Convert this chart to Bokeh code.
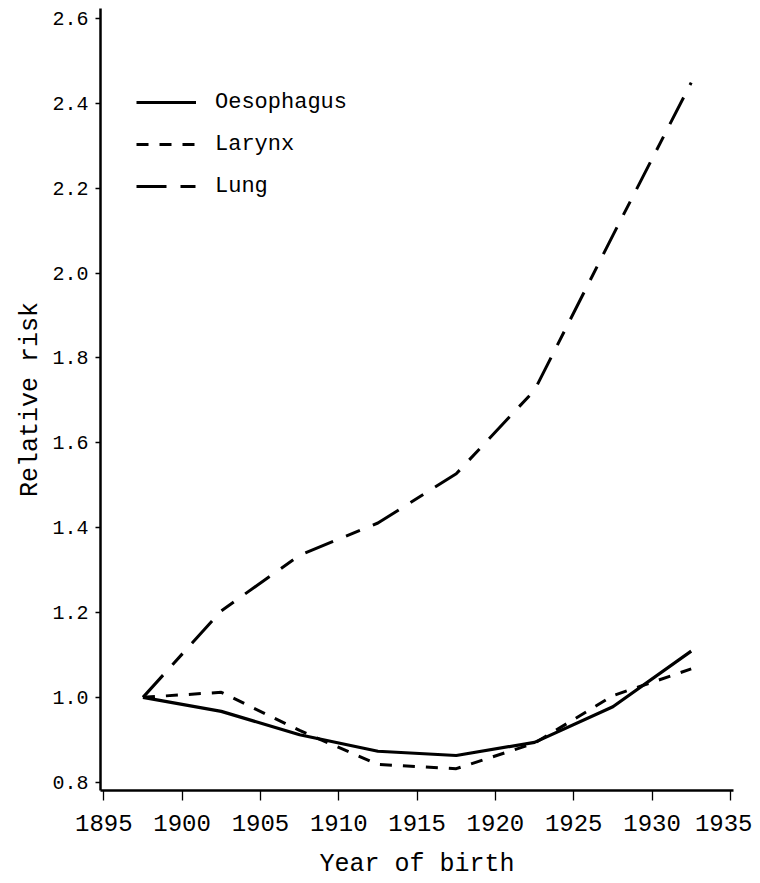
from bokeh.plotting import figure
from bokeh.models import FixedTicker, PrintfTickFormatter, Range1d, Legend, LegendItem
from bokeh.embed import file_html
from bokeh.resources import INLINE

years = [1897.5, 1902.5, 1907.5, 1912.5, 1917.5, 1922.5, 1927.5, 1932.5]
oesophagus = [1.0, 0.967, 0.912, 0.873, 0.863, 0.894, 0.978, 1.109]
larynx = [1.0, 1.012, 0.922, 0.842, 0.832, 0.892, 1.004, 1.067]
lung = [1.0, 1.204, 1.335, 1.411, 1.527, 1.724, 2.089, 2.449]

x_ticks = [1895, 1900, 1905, 1910, 1915, 1920, 1925, 1930, 1935]
y_ticks = [0.8, 1.0, 1.2, 1.4, 1.6, 1.8, 2.0, 2.2, 2.4, 2.6]

FONT = "Liberation Mono"

p = figure(width=752, height=882, output_backend="svg", toolbar_location=None,
           x_range=Range1d(1894.79, 1935.2), y_range=Range1d(0.7805, 2.6236),
           min_border_left=100, min_border_right=19, min_border_top=8, min_border_bottom=92)
p.outline_line_color = None
p.xgrid.visible = False
p.ygrid.visible = False
p.background_fill_color = "white"
p.border_fill_color = "white"

r1 = p.line(years, oesophagus, line_color="black", line_width=3.2)
r2 = p.line(years, larynx, line_color="black", line_width=3, line_dash="12 11")
r3 = p.line(years, lung, line_color="black", line_width=3, line_dash="30 14 15 14")

for ax in (p.xaxis[0], p.yaxis[0]):
    ax.axis_line_width = 2.5
    ax.axis_line_color = "black"
    ax.major_tick_in = 0
    ax.minor_tick_line_color = None
    ax.major_tick_line_width = 1.3
    ax.major_label_text_font = FONT
    ax.major_label_text_color = "black"
    ax.axis_label_text_font = FONT
    ax.axis_label_text_font_style = "normal"
    ax.axis_label_text_color = "black"
    ax.axis_label_text_font_size = "25px"

p.xaxis.ticker = FixedTicker(ticks=x_ticks)
p.yaxis.ticker = FixedTicker(ticks=y_ticks)
p.yaxis.formatter = PrintfTickFormatter(format="%.1f")
p.xaxis.major_tick_out = 10
p.yaxis.major_tick_out = 5
p.xaxis.major_label_text_font_size = "24px"
p.yaxis.major_label_text_font_size = "20px"
p.xaxis.major_label_standoff = 14
p.yaxis.major_label_standoff = 7
p.xaxis.axis_label = "Year of birth"
p.yaxis.axis_label = "Relative risk"
p.xaxis.axis_label_standoff = 16
p.yaxis.axis_label_standoff = 4

legend = Legend(items=[
    LegendItem(label="Oesophagus", renderers=[r1]),
    LegendItem(label="Larynx", renderers=[r2]),
    LegendItem(label="Lung", renderers=[r3]),
], location=(36, 589))
legend.glyph_width = 60
legend.glyph_height = 30
legend.label_height = 30
legend.spacing = 12
legend.padding = 0
legend.margin = 0
legend.label_standoff = 19
legend.label_text_font = FONT
legend.label_text_font_size = "22px"
legend.label_text_color = "black"
legend.border_line_color = None
legend.background_fill_alpha = 0
p.add_layout(legend)

open("out.html", "w").write(file_html(p, INLINE))
